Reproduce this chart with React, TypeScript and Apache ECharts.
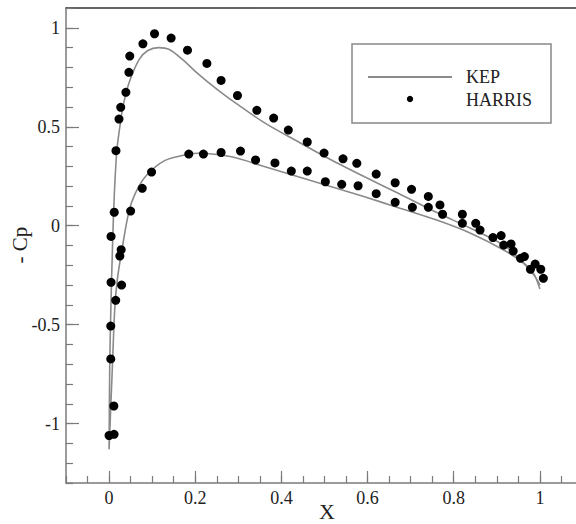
import React, { useEffect, useRef } from "react";
import * as echarts from "echarts";

// KEP computed -Cp along the upper surface (leading edge -> trailing edge)
const kepUpper: [number, number][] = [
  [0, -1.13], [0.0015, -0.71], [0.004, -0.43], [0.008, -0.1], [0.012, 0.15],
  [0.018, 0.38], [0.025, 0.5], [0.032, 0.6], [0.046, 0.72], [0.07, 0.84],
  [0.09, 0.885], [0.115, 0.9], [0.14, 0.89], [0.17, 0.84], [0.208, 0.765],
  [0.25, 0.69], [0.284, 0.635], [0.362, 0.518], [0.439, 0.424], [0.516, 0.332],
  [0.593, 0.247], [0.67, 0.165], [0.762, 0.065], [0.839, -0.013], [0.916, -0.098],
  [0.955, -0.173], [0.985, -0.24], [1.0, -0.32],
];
// KEP computed -Cp along the lower surface (leading edge -> trailing edge)
const kepLower: [number, number][] = [
  [0, -1.13], [0.0077, -0.71], [0.013, -0.426], [0.019, -0.274], [0.031, -0.106],
  [0.046, 0.071], [0.06, 0.16], [0.085, 0.25], [0.13, 0.33], [0.185, 0.362],
  [0.208, 0.366], [0.284, 0.348], [0.362, 0.298], [0.439, 0.247], [0.516, 0.197],
  [0.593, 0.146], [0.67, 0.092], [0.762, 0.027], [0.839, -0.038], [0.916, -0.123],
  [0.962, -0.19], [0.989, -0.258], [1.0, -0.3],
];
// HARRIS experimental points
const harrisUpper: [number, number][] = [
  [0, -1.06], [0.011, -0.911], [0.0039, -0.673], [0.0039, -0.507], [0.0046, -0.286],
  [0.0046, -0.054], [0.012, 0.068], [0.016, 0.379], [0.023, 0.539], [0.027, 0.598],
  [0.039, 0.674], [0.046, 0.775], [0.048, 0.857], [0.0785, 0.919], [0.1055, 0.97],
  [0.144, 0.948], [0.182, 0.887], [0.227, 0.82], [0.26, 0.734], [0.298, 0.658],
  [0.343, 0.583], [0.382, 0.544], [0.416, 0.483], [0.46, 0.423], [0.499, 0.367],
  [0.543, 0.338], [0.575, 0.315], [0.62, 0.261], [0.664, 0.217], [0.702, 0.184],
  [0.741, 0.148], [0.768, 0.105], [0.82, 0.058], [0.851, 0.012], [0.891, -0.06],
  [0.91, -0.05], [0.933, -0.092], [0.964, -0.156], [0.989, -0.194], [1.002, -0.22],
];
const harrisLower: [number, number][] = [
  [0.0115, -1.054], [0.0154, -0.377], [0.029, -0.3], [0.025, -0.153], [0.028, -0.121],
  [0.05, 0.074], [0.077, 0.189], [0.0986, 0.271], [0.185, 0.362], [0.219, 0.362],
  [0.26, 0.37], [0.305, 0.377], [0.34, 0.332], [0.385, 0.317], [0.423, 0.276],
  [0.46, 0.276], [0.502, 0.222], [0.54, 0.209], [0.578, 0.202], [0.62, 0.162],
  [0.664, 0.118], [0.704, 0.093], [0.741, 0.093], [0.774, 0.058], [0.82, 0.012],
  [0.861, -0.022], [0.916, -0.098], [0.938, -0.128], [0.955, -0.165], [0.978, -0.22],
  [1.008, -0.266],
];

const xMajorTicks = [0, 0.2, 0.4, 0.6, 0.8, 1];
const xTickLabels = ["0", "0.2", "0.4", "0.6", "0.8", "1"];
const yMajorTicks = [-1, -0.5, 0, 0.5, 1];
const yTickLabels = ["-1", "-0.5", "0", "0.5", "1"];

const FONT = "Liberation Serif";
const AXIS_COLOR = "#7a7a7a";
const TEXT_COLOR = "#222";

function labelFor(v: number, ticks: number[], labels: string[]) {
  for (let i = 0; i < ticks.length; i++) {
    if (Math.abs(ticks[i] - v) < 1e-6) return labels[i];
  }
  return "";
}

export default function App() {
  const ref = useRef<HTMLDivElement>(null);
  useEffect(() => {
    if (!ref.current) return;
    const chart = echarts.init(ref.current, undefined, { renderer: "svg" });
    const kepLine = [...kepUpper].reverse().concat(kepLower.slice(1));
    const xRange = { min: -0.1, max: 1.1 };
    const yRange = { min: -1.3, max: 1.1 };
    chart.setOption({
      animation: false,
      backgroundColor: "#fff",
      grid: { left: 66, top: 8, right: 0, bottom: 41, containLabel: false },
      xAxis: [
        {
          type: "value", position: "bottom", ...xRange, interval: 0.05,
          axisLine: { show: true, onZero: false, lineStyle: { color: AXIS_COLOR, width: 1.5 } },
          axisTick: { show: true, inside: true, length: 7, lineStyle: { color: AXIS_COLOR, width: 1.2 } },
          axisLabel: {
            show: true, margin: 6, color: TEXT_COLOR, fontFamily: FONT, fontSize: 18,
            formatter: (v: number) => labelFor(v, xMajorTicks, xTickLabels),
          },
          splitLine: { show: false },
        },
        {
          type: "value", position: "bottom", ...xRange,
          axisLine: { show: false, onZero: false },
          axisTick: { show: true, inside: true, length: 12, customValues: xMajorTicks, lineStyle: { color: AXIS_COLOR, width: 1.2 } },
          axisLabel: { show: false },
          splitLine: { show: false },
        },
        {
          type: "value", position: "top", ...xRange,
          axisLine: { show: true, onZero: false, lineStyle: { color: "#333", width: 1.5 } },
          axisTick: { show: false },
          axisLabel: { show: false },
          splitLine: { show: false },
        },
      ],
      yAxis: [
        {
          type: "value", position: "left", ...yRange, interval: 0.1,
          axisLine: { show: true, onZero: false, lineStyle: { color: AXIS_COLOR, width: 1.5 } },
          axisTick: { show: true, inside: true, length: 7, lineStyle: { color: AXIS_COLOR, width: 1.2 } },
          axisLabel: {
            show: true, margin: 6, color: TEXT_COLOR, fontFamily: FONT, fontSize: 18,
            formatter: (v: number) => labelFor(v, yMajorTicks, yTickLabels),
          },
          splitLine: { show: false },
        },
        {
          type: "value", position: "left", ...yRange,
          axisLine: { show: false, onZero: false },
          axisTick: { show: true, inside: true, length: 13, customValues: yMajorTicks, lineStyle: { color: AXIS_COLOR, width: 1.2 } },
          axisLabel: { show: false },
          splitLine: { show: false },
        },
      ],
      series: [
        {
          name: "KEP", type: "line", xAxisIndex: 0, yAxisIndex: 0,
          data: kepLine, showSymbol: false, symbol: "none", smooth: 0.3,
          lineStyle: { color: "#8a8a8a", width: 1.6 },
          z: 2,
        },
        {
          name: "HARRIS", type: "scatter", xAxisIndex: 0, yAxisIndex: 0,
          data: harrisUpper.concat(harrisLower), symbol: "circle", symbolSize: 9,
          itemStyle: { color: "#000", opacity: 1 },
          z: 3,
        },
      ],
      graphic: [
        {
          type: "rect", shape: { x: 352, y: 44, width: 199, height: 79 },
          style: { fill: "#fff", stroke: "#888", lineWidth: 1.5 },
        },
        {
          type: "line", shape: { x1: 368, y1: 77, x2: 452, y2: 77 },
          style: { stroke: "#8a8a8a", lineWidth: 2 },
        },
        { type: "circle", shape: { cx: 410, cy: 99, r: 3.2 }, style: { fill: "#000" } },
        {
          type: "text", x: 466, y: 77,
          style: { text: "KEP", fontFamily: FONT, fontSize: 18, fill: TEXT_COLOR, verticalAlign: "middle", align: "left" },
        },
        {
          type: "text", x: 466, y: 100,
          style: { text: "HARRIS", fontFamily: FONT, fontSize: 18, fill: TEXT_COLOR, verticalAlign: "middle", align: "left" },
        },
        {
          type: "text", x: 327, y: 511,
          style: { text: "X", fontFamily: FONT, fontSize: 22, fill: TEXT_COLOR, verticalAlign: "middle", align: "center" },
        },
        {
          type: "text", x: 20, y: 245, rotation: Math.PI / 2,
          style: { text: "- Cp", fontFamily: FONT, fontSize: 21, fill: TEXT_COLOR, verticalAlign: "middle", align: "center" },
        },
      ],
    });
    return () => chart.dispose();
  }, []);
  return (
    <div style={{ position: "fixed", left: 0, top: 0, width: 576, height: 524, overflow: "hidden", background: "#fff" }}>
      <div ref={ref} style={{ width: 586, height: 524 }} />
    </div>
  );
}
